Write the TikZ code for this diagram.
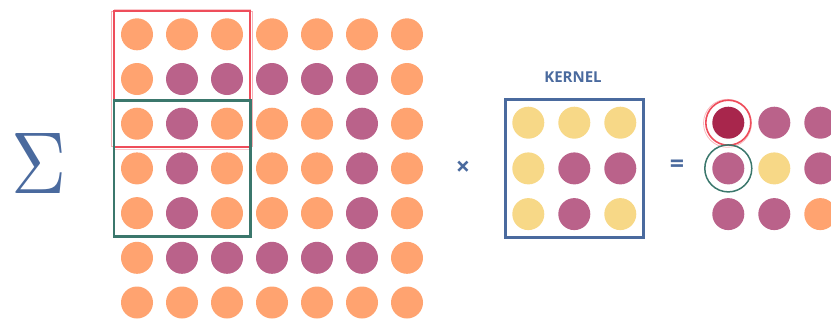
\documentclass[tikz,border=0pt]{standalone}
\usepackage{fontspec}
\setsansfont{Open Sans}
\usetikzlibrary{fit}
\definecolor{peach}{HTML}{FFA370}
\definecolor{plum}{HTML}{BA628A}
\definecolor{sand}{HTML}{F7D887}
\definecolor{wine}{HTML}{A8264C}
\definecolor{pine}{HTML}{3B776C}
\definecolor{coral}{HTML}{EE4D5B}
\definecolor{slate}{HTML}{4A6A9E}

\begin{document}
\begin{tikzpicture}[x=1pt, y=-1pt, font=\sffamily,
      dot/.style={circle, inner sep=0pt, minimum size=32pt},
      dotO/.style={dot, fill=peach}, dotP/.style={dot, fill=plum},
      dotY/.style={dot, fill=sand}, dotW/.style={dot, fill=wine},
      redbox/.style={draw=coral, line width=1.6pt, inner sep=7pt},
      greenbox/.style={draw=pine, line width=2.6pt, inner sep=7pt},
      kbox/.style={draw=slate, line width=2.8pt, inner sep=7pt},
      sym/.style={text=slate, font=\sffamily\bfseries\fontsize{25}{25}\selectfont}]
    \clip (0,0) rectangle (831,322);
    \foreach \row [count=\r] in {{O,O,O,O,O,O,O},{O,P,P,P,P,P,O},{O,P,O,O,O,P,O},
        {O,P,O,O,O,P,O},{O,P,O,O,O,P,O},{O,P,P,P,P,P,O},{O,O,O,O,O,O,O}}
      \foreach \c [count=\k] in \row
        \node[dot\c] (in-\r-\k) at ({137+45*(\k-1)}, {34.3+44.7*(\r-1)}) {};
    \foreach \row [count=\r] in {{Y,Y,Y},{Y,P,P},{Y,P,Y}}
      \foreach \c [count=\k] in \row
        \node[dot\c] (ker-\r-\k) at ({528.3+46*(\k-1)}, {122.7+45.7*(\r-1)}) {};
    \foreach \row [count=\r] in {{W,P,P},{P,Y,P},{P,P,O}}
      \foreach \c [count=\k] in \row
        \node[dot\c] (out-\r-\k) at ({728.3+46*(\k-1)}, {122.7+45.7*(\r-1)}) {};
    \node[redbox, fit=(in-1-1)(in-3-3)] (win1) {};
    \draw[coral, opacity=.45, line width=.8pt] ([shift={(-1.2,1)}]win1.north west) rectangle ([shift={(1,-1.4)}]win1.south east);
    \draw[coral, opacity=.3, line width=.8pt] ([shift={(1,-1.3)}]win1.north west) rectangle ([shift={(-1.1,1.2)}]win1.south east);
    \node[greenbox, fit=(in-3-1)(in-5-3)] (win2) {};
    \node[kbox, fit=(ker-1-1)(ker-3-3)] (kbox) {};
    \node[text=slate, font=\sffamily\bfseries\fontsize{15}{15}\selectfont] (klabel) at (573,77) {KERNEL};
    \node[circle, draw=coral, line width=1.6pt, minimum size=45pt] (ring1) at (out-1-1) {};
    \node[circle, draw=coral, opacity=.4, line width=.8pt, minimum size=48pt] at ([shift={(-.8,.6)}]out-1-1) {};
    \node[circle, draw=pine, line width=1.5pt, minimum size=47pt] (ring2) at (out-2-1) {};
    \node[sym] (times) at (463,168) {×};
    \node[sym] (equals) at (677,166) {=};
    \node[text=slate, inner sep=0pt] (sigma) at (39.5,163) {\resizebox{55pt}{60pt}{$\Sigma$}};
  \end{tikzpicture}
\end{document}
